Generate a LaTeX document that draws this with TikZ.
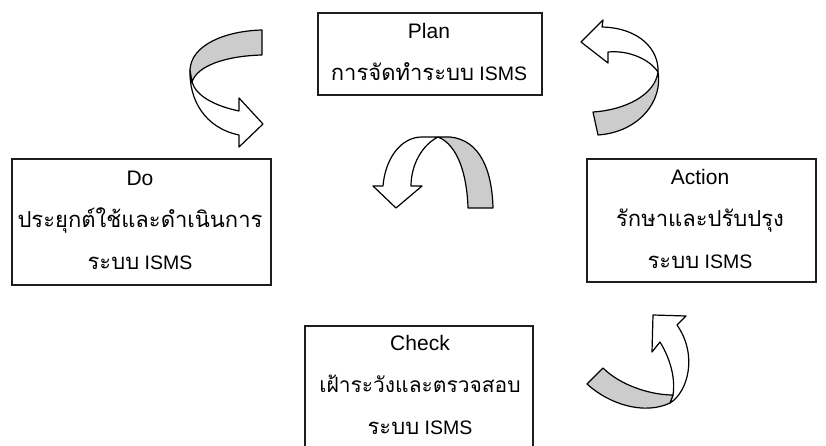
\documentclass[tikz,border=0pt]{standalone}
\usepackage{fontspec}
\setmainfont{Liberation Sans}
\newfontfamily\thaifont[Script=Thai]{Loma}
\definecolor{ribbongray}{RGB}{204,204,204}
\definecolor{framegray}{RGB}{30,30,30}
\tikzset{
  stagebox/.style={draw=framegray, line width=2pt, anchor=north west, inner sep=0pt},
  stagetext/.style={align=center, inner sep=0pt, font=\fontsize{19.5}{42}\selectfont},
  ribbon/.style={draw=black, line width=1.2pt, line join=round, fill=white},
  ribbonback/.style={ribbon, fill=ribbongray}
}
\newcommand{\thline}[1]{{\thaifont\fontsize{22}{42}\selectfont #1}}
\newcommand{\stagehead}[1]{{\fontsize{21}{42}\selectfont #1}}
\begin{document}
\begin{tikzpicture}[x=1pt, y=-1pt]
\clip (0,0) rectangle (826,446);
\useasboundingbox (0,0) rectangle (826,446);

% stage boxes
\node[stagebox, minimum width=224pt, minimum height=82pt] (planbox) at (317,12) {};
\node[stagebox, minimum width=259pt, minimum height=126pt] (dobox) at (11,158) {};
\node[stagebox, minimum width=229pt, minimum height=123pt] (actbox) at (586,158) {};
\node[stagebox, minimum width=228pt, minimum height=140pt] (chkbox) at (304,325) {};

% stage texts
\node[stagetext] (plantext) at (429,52) {\stagehead{Plan}\\ \thline{การจัดทำระบบ} ISMS};
\node[stagetext] (dotext) at (140,220) {\stagehead{Do}\\ \thline{ประยุกต์ใช้และดำเนินการ}\\ \thline{ระบบ} ISMS};
\node[stagetext] (acttext) at (700,219) {\stagehead{Action}\\ \thline{รักษาและปรับปรุง}\\ \thline{ระบบ} ISMS};
\node[stagetext] (chktext) at (420,385) {\stagehead{Check}\\ {\thaifont\fontsize{21}{42}\selectfont เฝ้าระวังและตรวจสอบ}\\ \thline{ระบบ} ISMS};

% ribbon arrow: Do -> Plan side (top left)
\draw[ribbon] (190,70) .. controls (189,100) and (205,128) .. (239,135)
  -- (239,147) -- (263,124) -- (239,98) -- (239,111)
  .. controls (215,106) and (196,96) .. (192,82) -- cycle;
\draw[ribbonback] (262,30) .. controls (225,31) and (191,45) .. (190,70)
  -- (192,82) .. controls (197,66) and (225,56) .. (262,55) -- cycle;

% ribbon arrow: Action -> Plan side (top right)
\draw[ribbon] (658,72) .. controls (659,50) and (640,28) .. (602,27)
  -- (603,20) -- (581,42) -- (608,63) -- (608,52)
  .. controls (630,50) and (650,60) .. (658,72) -- cycle;
\draw[ribbonback] (658,72) .. controls (663,100) and (640,132) .. (598,135)
  -- (593,112) .. controls (625,110) and (655,95) .. (658,72) -- cycle;

% ribbon arrow in the middle of the cycle
\draw[ribbon] (383,186) .. controls (385,160) and (400,137) .. (422,137)
  -- (438,137) .. controls (422,145) and (411,165) .. (411,186)
  -- (422,186) -- (396,208) -- (373,186) -- cycle;
\draw[ribbonback] (438,137) -- (450,137) .. controls (480,140) and (492,170) .. (493,208)
  -- (468,208) .. controls (467,175) and (458,145) .. (438,137) -- cycle;

% ribbon arrow: Check -> Action side (bottom right)
\draw[ribbon] (660,342) .. controls (668,355) and (676,375) .. (673,395)
  -- (670,403) .. controls (688,392) and (698,355) .. (677,325)
  -- (686,316) -- (653,315) -- (652,352) -- cycle;
\draw[ribbonback] (673,395) .. controls (650,395) and (620,385) .. (603,368)
  -- (587,384) .. controls (610,405) and (645,415) .. (670,403) -- cycle;
\end{tikzpicture}
\end{document}
